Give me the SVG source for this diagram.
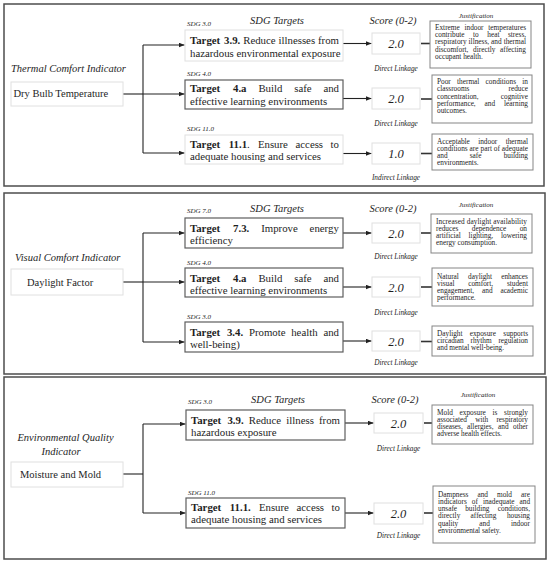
<svg xmlns="http://www.w3.org/2000/svg" width="550" height="568" viewBox="0 0 550 568" font-family="Liberation Serif, Times New Roman, serif">
<style>
.pnl{fill:#fff;stroke:#4d4d4d;stroke-width:1.5}
.tb{fill:#fff;stroke:#5e5e5e;stroke-width:1.2}
.fb{fill:#fff;stroke:#e0e0e0;stroke-width:1}
.jb{fill:#fff;stroke:#858585;stroke-width:1}
.t{font-size:10.8px;fill:#1e1e1e}
.b{font-weight:bold}
.ind{font-size:10.5px;font-style:italic;fill:#1e1e1e}
.nm{font-size:10.5px;fill:#1e1e1e}
.hd{font-size:10.5px;font-style:italic;text-anchor:middle;fill:#1e1e1e}
.sdg{font-size:7px;font-style:italic;fill:#1e1e1e}
.jh{font-size:7px;font-style:italic;text-anchor:middle;fill:#1e1e1e}
.sc{font-size:12.5px;font-style:italic;text-anchor:middle;fill:#1e1e1e}
.lk{font-size:7.3px;font-style:italic;text-anchor:middle;fill:#1e1e1e}
.j{font-size:7.3px;fill:#1e1e1e}
.con{stroke:#222;stroke-width:1.1;fill:none}
.lnk{stroke:#333;stroke-width:1.6;fill:none}
</style>
<defs>
<marker id="ah" viewBox="0 0 6 5" refX="6" refY="2.5" markerWidth="6" markerHeight="5" markerUnits="userSpaceOnUse" orient="auto"><path d="M0,0 L6,2.5 L0,5 z" fill="#222"/></marker>
</defs>
<rect width="550" height="568" fill="#fff"/>
<g id="panels">
<rect class="pnl" x="4" y="4" width="540" height="182"/>
<rect class="pnl" x="4" y="193" width="541" height="181"/>
<rect class="pnl" x="4" y="377" width="542" height="182"/>
</g>
<g id="headers">
<text class="hd" x="277" y="23.5">SDG Targets</text>
<text class="hd" x="393" y="23.5">Score (0-2)</text>
<text class="jh" x="476" y="17.5">Justification</text>
<text class="hd" x="277" y="211.5">SDG Targets</text>
<text class="hd" x="393" y="211.5">Score (0-2)</text>
<text class="jh" x="476" y="206.5">Justification</text>
<text class="hd" x="278" y="403">SDG Targets</text>
<text class="hd" x="395" y="403">Score (0-2)</text>
<text class="jh" x="478" y="396.5">Justification</text>
</g>
<g id="connectors">
<line class="con" x1="123" y1="94" x2="143" y2="94"/>
<line class="con" x1="143" y1="45" x2="143" y2="153"/>
<line class="con" x1="143" y1="45" x2="184.5" y2="45" marker-end="url(#ah)"/>
<line class="con" x1="143" y1="94" x2="184.5" y2="94" marker-end="url(#ah)"/>
<line class="con" x1="143" y1="153" x2="184.5" y2="153" marker-end="url(#ah)"/>
<line class="con" x1="343" y1="43.5" x2="371.5" y2="43.5" marker-end="url(#ah)"/>
<line class="con" x1="343" y1="98.5" x2="371.5" y2="98.5" marker-end="url(#ah)"/>
<line class="con" x1="343" y1="153.5" x2="371.5" y2="153.5" marker-end="url(#ah)"/>
<line class="lnk" x1="421" y1="43.5" x2="430" y2="43.5"/>
<line class="lnk" x1="421" y1="99" x2="432" y2="99"/>
<line class="lnk" x1="421" y1="153.5" x2="432" y2="153.5"/>
<line class="con" x1="123" y1="282" x2="143" y2="282"/>
<line class="con" x1="143" y1="233" x2="143" y2="342"/>
<line class="con" x1="143" y1="233" x2="184.5" y2="233" marker-end="url(#ah)"/>
<line class="con" x1="143" y1="282" x2="184.5" y2="282" marker-end="url(#ah)"/>
<line class="con" x1="143" y1="342" x2="184.5" y2="342" marker-end="url(#ah)"/>
<line class="con" x1="343" y1="233" x2="371.5" y2="233" marker-end="url(#ah)"/>
<line class="con" x1="343" y1="287" x2="371.5" y2="287" marker-end="url(#ah)"/>
<line class="con" x1="343" y1="341" x2="371.5" y2="341" marker-end="url(#ah)"/>
<line class="lnk" x1="421" y1="233" x2="431" y2="233"/>
<line class="lnk" x1="421" y1="287" x2="432" y2="287"/>
<line class="lnk" x1="421" y1="341.5" x2="432" y2="341.5"/>
<line class="con" x1="123" y1="474" x2="143" y2="474"/>
<line class="con" x1="143" y1="424" x2="143" y2="513"/>
<line class="con" x1="143" y1="424" x2="185.5" y2="424" marker-end="url(#ah)"/>
<line class="con" x1="143" y1="513" x2="185.5" y2="513" marker-end="url(#ah)"/>
<line class="con" x1="345" y1="423" x2="373.5" y2="423" marker-end="url(#ah)"/>
<line class="con" x1="345" y1="513" x2="373.5" y2="513" marker-end="url(#ah)"/>
<line class="lnk" x1="424" y1="423" x2="432" y2="423"/>
<line class="lnk" x1="424" y1="513" x2="433" y2="513"/>
</g>
<g id="ind-thermal">
<text class="ind" x="11" y="72">Thermal Comfort Indicator</text>
<rect class="fb" x="11" y="82" width="112" height="24"/>
<text class="nm" x="13.5" y="97">Dry Bulb Temperature</text>
</g>
<g id="t-p1-39">
<text class="sdg" x="187" y="25.5">SDG 3.0</text>
<rect class="fb" x="185" y="30" width="158" height="31"/>
<text class="t" y="44"><tspan class="b" x="190">Target</tspan><tspan class="b" x="224.1">3.9.</tspan><tspan x="243.2">Reduce</tspan><tspan x="278.5">illnesses</tspan><tspan x="318">from</tspan></text>
<text class="t" x="190" y="56.5">hazardous environmental exposure</text>
</g>
<g id="t-p1-4a">
<text class="sdg" x="187" y="75.5">SDG 4.0</text>
<rect class="tb" x="185" y="80" width="158" height="29"/>
<text class="t" y="92"><tspan class="b" x="190">Target</tspan><tspan class="b" x="233">4.a</tspan><tspan x="258.4">Build</tspan><tspan x="294.2">safe</tspan><tspan x="323.4">and</tspan></text>
<text class="t" x="190" y="104.5">effective learning environments</text>
</g>
<g id="t-p1-111">
<text class="sdg" x="187" y="130.5">SDG 11.0</text>
<rect class="fb" x="185" y="135" width="158" height="29"/>
<text class="t" y="147.5"><tspan class="b" x="190">Target</tspan><tspan class="b" x="228.8">11.1</tspan><tspan>.</tspan><tspan x="257.9">Ensure</tspan><tspan x="295.5">access</tspan><tspan x="330.6">to</tspan></text>
<text class="t" x="190" y="160">adequate housing and services</text>
</g>
<g id="s-p1-1"><rect class="fb" x="372" y="33" width="48" height="21"/><text class="sc" x="396" y="48">2.0</text><text class="lk" x="396" y="70.5">Direct Linkage</text></g>
<g id="s-p1-2"><rect class="fb" x="372" y="88" width="48" height="21"/><text class="sc" x="396" y="103">2.0</text><text class="lk" x="396" y="125.5">Direct Linkage</text></g>
<g id="s-p1-3"><rect class="fb" x="372" y="143" width="48" height="21"/><text class="sc" x="396" y="158">1.0</text><text class="lk" x="396" y="179.5">Indirect Linkage</text></g>
<g id="j-p1-1">
<rect class="jb" x="430" y="21" width="101" height="47"/>
<text class="j" y="30"><tspan x="435">Extreme</tspan><tspan x="464.5">indoor</tspan><tspan x="488.3">temperatures</tspan></text>
<text class="j" y="37.2"><tspan x="435">contribute</tspan><tspan x="473.1">to</tspan><tspan x="487.3">heat</tspan><tspan x="508">stress,</tspan></text>
<text class="j" y="44.4"><tspan x="435">respiratory</tspan><tspan x="468.6">illness,</tspan><tspan x="491.1">and</tspan><tspan x="503.7">thermal</tspan></text>
<text class="j" y="51.6"><tspan x="435">discomfort,</tspan><tspan x="473.1">directly</tspan><tspan x="500.1">affecting</tspan></text>
<text class="j" x="435" y="58.8">occupant health.</text>
</g>
<g id="j-p1-2">
<rect class="jb" x="432" y="75" width="100" height="48"/>
<text class="j" y="84.2"><tspan x="437">Poor</tspan><tspan x="457.1">thermal</tspan><tspan x="485.6">conditions</tspan><tspan x="522.3">in</tspan></text>
<text class="j" y="91.4"><tspan x="437">classrooms</tspan><tspan x="508.5">reduce</tspan></text>
<text class="j" y="98.6"><tspan x="437">concentration,</tspan><tspan x="500.8">cognitive</tspan></text>
<text class="j" y="105.8"><tspan x="437">performance,</tspan><tspan x="484.6">and</tspan><tspan x="504.1">learning</tspan></text>
<text class="j" x="437" y="113">outcomes.</text>
</g>
<g id="j-p1-3">
<rect class="jb" x="432" y="134" width="101" height="36"/>
<text class="j" y="143.5"><tspan x="437">Acceptable</tspan><tspan x="478.2">indoor</tspan><tspan x="505.7">thermal</tspan></text>
<text class="j" x="437" y="150.7" textLength="91" lengthAdjust="spacing">conditions are part of adequate</text>
<text class="j" y="157.9"><tspan x="437">and</tspan><tspan x="469.7">safe</tspan><tspan x="503.7">building</tspan></text>
<text class="j" x="437" y="165.1">environments.</text>
</g>
<g id="ind-visual">
<text class="ind" x="15" y="261">Visual Comfort Indicator</text>
<rect class="fb" x="11" y="269" width="112" height="26"/>
<text class="nm" x="27" y="286">Daylight Factor</text>
</g>
<g id="t-p2-73">
<text class="sdg" x="187" y="212.5">SDG 7.0</text>
<rect class="tb" x="185" y="218" width="158" height="30"/>
<text class="t" y="232"><tspan class="b" x="190">Target</tspan><tspan class="b" x="233.1">7.3.</tspan><tspan x="261.2">Improve</tspan><tspan x="309.6">energy</tspan></text>
<text class="t" x="190" y="244">efficiency</text>
</g>
<g id="t-p2-4a">
<text class="sdg" x="187" y="264.5">SDG 4.0</text>
<rect class="tb" x="185" y="268" width="158" height="29"/>
<text class="t" y="281.5"><tspan class="b" x="190">Target</tspan><tspan class="b" x="233">4.a</tspan><tspan x="258.4">Build</tspan><tspan x="294.2">safe</tspan><tspan x="323.4">and</tspan></text>
<text class="t" x="190" y="293.5">effective learning environments</text>
</g>
<g id="t-p2-34">
<text class="sdg" x="187" y="318.5">SDG 3.0</text>
<rect class="tb" x="185" y="322" width="158" height="30"/>
<text class="t" y="336"><tspan class="b" x="190">Target</tspan><tspan class="b" x="226.9">3.4.</tspan><tspan x="248.9">Promote</tspan><tspan x="291.2">health</tspan><tspan x="323.4">and</tspan></text>
<text class="t" x="190" y="348">well-being)</text>
</g>
<g id="s-p2-1"><rect class="fb" x="372" y="223" width="48" height="20"/><text class="sc" x="396" y="237.5">2.0</text><text class="lk" x="396" y="258.5">Direct Linkage</text></g>
<g id="s-p2-2"><rect class="fb" x="372" y="277" width="48" height="20"/><text class="sc" x="396" y="291.5">2.0</text><text class="lk" x="396" y="314.5">Direct Linkage</text></g>
<g id="s-p2-3"><rect class="fb" x="372" y="331" width="48" height="20"/><text class="sc" x="396" y="345.5">2.0</text><text class="lk" x="396" y="364.5">Direct Linkage</text></g>
<g id="j-p2-1">
<rect class="jb" x="431" y="214" width="101" height="39"/>
<text class="j" x="436" y="223.5" textLength="91" lengthAdjust="spacing">Increased daylight availability</text>
<text class="j" y="230.7"><tspan x="436">reduces</tspan><tspan x="471.8">dependence</tspan><tspan x="519.7">on</tspan></text>
<text class="j" y="237.9"><tspan x="436">artificial</tspan><tspan x="468.6">lighting,</tspan><tspan x="501">lowering</tspan></text>
<text class="j" x="436" y="245.1">energy consumption.</text>
</g>
<g id="j-p2-2">
<rect class="jb" x="432" y="268" width="101" height="38"/>
<text class="j" y="278.5"><tspan x="437">Natural</tspan><tspan x="468.1">daylight</tspan><tspan x="501.2">enhances</tspan></text>
<text class="j" y="285.7"><tspan x="437">visual</tspan><tspan x="468.2">comfort,</tspan><tspan x="506.9">student</tspan></text>
<text class="j" y="292.9"><tspan x="437">engagement,</tspan><tspan x="482">and</tspan><tspan x="500.4">academic</tspan></text>
<text class="j" x="437" y="300.1">performance.</text>
</g>
<g id="j-p2-3">
<rect class="jb" x="432" y="326" width="101" height="30"/>
<text class="j" y="335.5"><tspan x="437">Daylight</tspan><tspan x="469.7">exposure</tspan><tspan x="503.3">supports</tspan></text>
<text class="j" y="342.7"><tspan x="437">circadian</tspan><tspan x="470.5">rhythm</tspan><tspan x="498.4">regulation</tspan></text>
<text class="j" x="437" y="349.9">and mental well-being.</text>
</g>
<g id="ind-env">
<text class="ind" x="65.5" y="441" text-anchor="middle">Environmental Quality</text>
<text class="ind" x="61" y="455" text-anchor="middle">Indicator</text>
<rect class="fb" x="11" y="462" width="112" height="25"/>
<text class="nm" x="20" y="478">Moisture and Mold</text>
</g>
<g id="t-p3-39">
<text class="sdg" x="188" y="403.5">SDG 3.0</text>
<rect class="tb" x="186" y="410" width="159" height="30"/>
<text class="t" y="424"><tspan class="b" x="191">Target</tspan><tspan class="b" x="227.4">3.9.</tspan><tspan x="248.7">Reduce</tspan><tspan x="286.3">illness</tspan><tspan x="319">from</tspan></text>
<text class="t" x="191" y="436">hazardous exposure</text>
</g>
<g id="t-p3-111">
<text class="sdg" x="188" y="494.5">SDG 11.0</text>
<rect class="tb" x="186" y="498" width="159" height="30"/>
<text class="t" y="511"><tspan class="b" x="191">Target</tspan><tspan class="b" x="229.8">11.1.</tspan><tspan x="258.9">Ensure</tspan><tspan x="296.5">access</tspan><tspan x="331.6">to</tspan></text>
<text class="t" x="191" y="523">adequate housing and services</text>
</g>
<g id="s-p3-1"><rect class="fb" x="374" y="413" width="49" height="20"/><text class="sc" x="398.5" y="427.5">2.0</text><text class="lk" x="398.5" y="450.5">Direct Linkage</text></g>
<g id="s-p3-2"><rect class="fb" x="374" y="503" width="49" height="21"/><text class="sc" x="398.5" y="518">2.0</text><text class="lk" x="398.5" y="537.5">Direct Linkage</text></g>
<g id="j-p3-1">
<rect class="jb" x="432" y="405" width="101" height="39"/>
<text class="j" y="414.5"><tspan x="437">Mold</tspan><tspan x="459.5">exposure</tspan><tspan x="492.5">is</tspan><tspan x="504.1">strongly</tspan></text>
<text class="j" y="421.7"><tspan x="437">associated</tspan><tspan x="475.2">with</tspan><tspan x="496.4">respiratory</tspan></text>
<text class="j" y="428.9"><tspan x="437">diseases,</tspan><tspan x="467.1">allergies,</tspan><tspan x="498.1">and</tspan><tspan x="513">other</tspan></text>
<text class="j" x="437" y="436.1">adverse health effects.</text>
</g>
<g id="j-p3-2">
<rect class="jb" x="433" y="486" width="102" height="57"/>
<text class="j" y="496.5"><tspan x="438">Dampness</tspan><tspan x="477.4">and</tspan><tspan x="497">mold</tspan><tspan x="521.1">are</tspan></text>
<text class="j" y="503.8"><tspan x="438">indicators</tspan><tspan x="471.8">of</tspan><tspan x="482.9">inadequate</tspan><tspan x="519.5">and</tspan></text>
<text class="j" y="511.1"><tspan x="438">unsafe</tspan><tspan x="465.2">building</tspan><tspan x="497.8">conditions,</tspan></text>
<text class="j" y="518.4"><tspan x="438">directly</tspan><tspan x="470.6">affecting</tspan><tspan x="506.9">housing</tspan></text>
<text class="j" y="525.7"><tspan x="438">quality</tspan><tspan x="479.3">and</tspan><tspan x="510.9">indoor</tspan></text>
<text class="j" x="438" y="533">environmental safety.</text>
</g>
</svg>
